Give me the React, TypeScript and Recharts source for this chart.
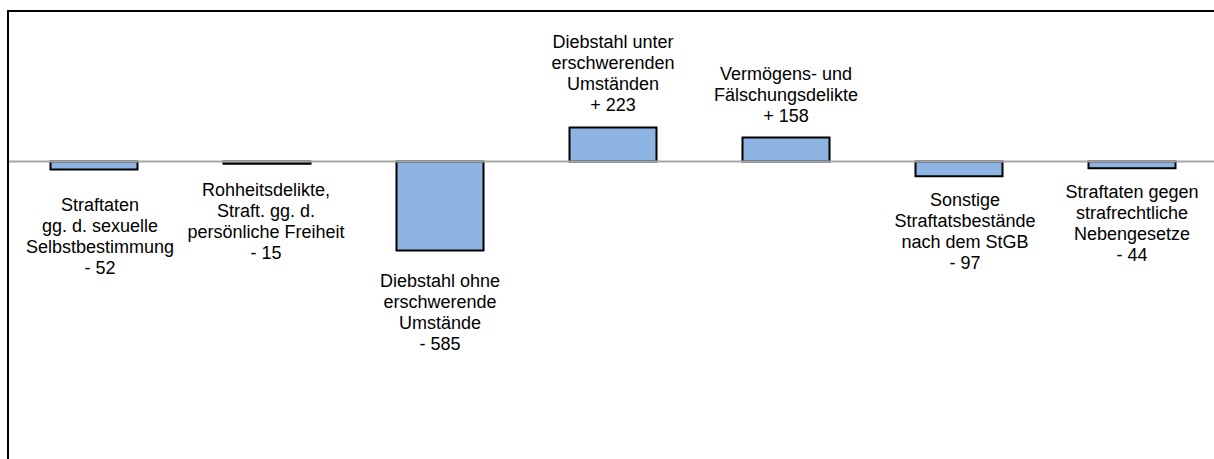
import { BarChart, Bar, XAxis, YAxis, ReferenceLine, LabelList } from "recharts";

const categories = [
  "Straftaten\ngg. d. sexuelle\nSelbstbestimmung",
  "Rohheitsdelikte,\nStraft. gg. d.\npersönliche Freiheit",
  "Diebstahl ohne\nerschwerende\nUmstände",
  "Diebstahl unter\nerschwerenden\nUmständen",
  "Vermögens- und\nFälschungsdelikte",
  "Sonstige\nStraftatsbestände\nnach dem StGB",
  "Straftaten gegen\nstrafrechtliche\nNebengesetze",
];
const changes = [-52, -15, -585, 223, 158, -97, -44];

// hand-placed label offsets in the original (px from bar end / bar centre)
const labelGap = [35, 26, 30, 23, 22, 23, 24];
const labelShiftX = [6, -1, 0, 0, 0, 6, 0];

const data = categories.map((name, i) => ({ name, value: changes[i] }));

const FONT = 18;
const LINE = 21;

const fmt = (v: number) => (v < 0 ? "- " : "+ ") + Math.abs(v);

function BarLabel(props: any) {
  const { x, y, width, height, index } = props;
  const v = changes[index];
  const lines = [...categories[index].split("\n"), fmt(v)];
  const top = Math.min(y, y + height);
  const bottom = Math.max(y, y + height);
  const cx = x + width / 2 + labelShiftX[index];
  let firstCenter: number;
  if (v < 0) {
    firstCenter = bottom + labelGap[index];
  } else {
    firstCenter = top - labelGap[index] - (lines.length - 1) * LINE;
  }
  return (
    <text
      textAnchor="middle"
      fontFamily="'Liberation Sans', Arial, sans-serif"
      fontSize={FONT}
      fill="#000"
    >
      {lines.map((l, i) => (
        <tspan key={i} x={cx} y={firstCenter + i * LINE + FONT * 0.35}>
          {l}
        </tspan>
      ))}
    </text>
  );
}

export default function App() {
  return (
    <div
      style={{
        position: "fixed",
        left: 0,
        top: 0,
        width: 1214,
        height: 459,
        overflow: "hidden",
        background: "#fff",
      }}
    >
      <BarChart
        width={1225}
        height={459}
        data={data}
        margin={{ top: 9.4, right: 6.5, bottom: 145.4, left: 7.5 }}
        barSize={87}
      >
        <XAxis dataKey="name" hide />
        <YAxis hide domain={[-1000, 1000]} />
        <Bar
          dataKey="value"
          fill="#8EB4E3"
          stroke="#000"
          strokeWidth={2}
          isAnimationActive={false}
        >
          <LabelList dataKey="value" content={<BarLabel />} />
        </Bar>
        <ReferenceLine y={0} stroke="#A6A6A6" strokeWidth={2} />
      </BarChart>
      <div
        style={{
          position: "absolute",
          left: 7,
          top: 9.5,
          width: 1400,
          height: 600,
          borderLeft: "2px solid #000",
          borderTop: "2px solid #000",
          pointerEvents: "none",
        }}
      />
    </div>
  );
}
